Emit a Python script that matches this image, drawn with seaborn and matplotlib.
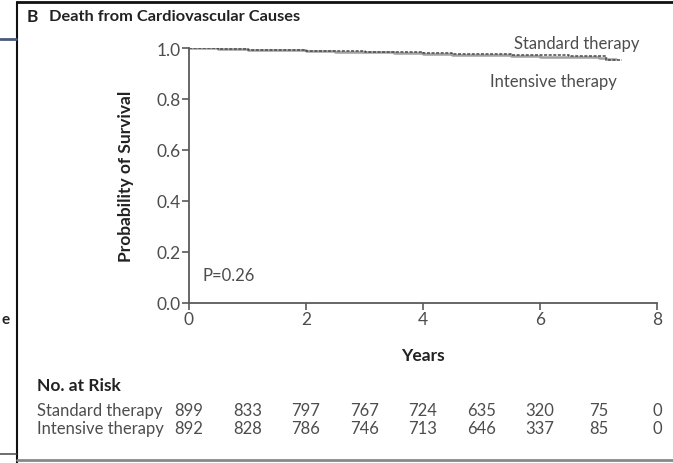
import matplotlib
matplotlib.use("Agg")
import matplotlib.pyplot as plt
import seaborn as sns
import pandas as pd
from matplotlib.lines import Line2D

# Kaplan-Meier style survival estimates (years, probability)
std_years = [0, 0.5, 1.0, 1.5, 2.0, 2.5, 3.0, 3.5, 4.0, 4.5, 5.0, 5.5, 6.0, 6.5, 7.0, 7.12, 7.4]
std_surv = [1.0, 0.997, 0.994, 0.992, 0.990, 0.988, 0.986, 0.984, 0.981, 0.978, 0.976, 0.973, 0.971, 0.969, 0.967, 0.952, 0.952]
int_years = [0, 0.5, 1.0, 1.5, 2.0, 2.5, 3.0, 3.5, 4.0, 4.5, 5.0, 5.5, 6.0, 6.5, 7.0, 7.12, 7.3]
int_surv = [1.0, 0.997, 0.994, 0.991, 0.989, 0.986, 0.983, 0.980, 0.977, 0.974, 0.971, 0.968, 0.965, 0.963, 0.961, 0.957, 0.957]

risk_years = [0, 1, 2, 3, 4, 5, 6, 7, 8]
risk_standard = [899, 833, 797, 767, 724, 635, 320, 75, 0]
risk_intensive = [892, 828, 786, 746, 713, 646, 337, 85, 0]

x_ticks = [0, 2, 4, 6, 8]
y_ticks = [0.0, 0.2, 0.4, 0.6, 0.8, 1.0]

sns.set_theme(style="white")
plt.rcParams["font.family"] = ["Lato", "DejaVu Sans"]

DARK = "#222222"
GRAY = "#4d4d4d"
W, H = 673, 464


def fx(px):
    return px / W


def fy(py):
    return 1 - py / H


fig = plt.figure(figsize=(6.73, 4.64), dpi=100)
ax = fig.add_axes([fx(189), fy(304), 468 / W, 255 / H])

df = pd.concat([
    pd.DataFrame({"Years": std_years, "Survival": std_surv, "Group": "Standard therapy"}),
    pd.DataFrame({"Years": int_years, "Survival": int_surv, "Group": "Intensive therapy"}),
])

sns.lineplot(data=df[df.Group == "Intensive therapy"], x="Years", y="Survival",
             drawstyle="steps-post", color="#a0a0a0", lw=1.8, ax=ax, legend=False)
sns.lineplot(data=df[df.Group == "Standard therapy"], x="Years", y="Survival",
             drawstyle="steps-post", color="#4a4a4a", lw=1.1, ls=(0, (2, 1)),
             ax=ax, legend=False)

ax.set_xlim(0, 8)
ax.set_ylim(0, 1.0)
ax.set_xticks(x_ticks)
ax.set_yticks(y_ticks)
ax.set_yticklabels([f"{v:.1f}" for v in y_ticks])
for s in ["top", "right"]:
    ax.spines[s].set_visible(False)
for s in ["left", "bottom"]:
    ax.spines[s].set_color("#5a5a5a")
    ax.spines[s].set_linewidth(1.3)
ax.tick_params(axis="both", direction="out", length=5, width=1.2, color="#5a5a5a",
               labelsize=12.5, labelcolor=GRAY, pad=1, left=True, bottom=True)
ax.set_xlabel("Years", fontsize=12.5, fontweight="bold", color=DARK, labelpad=14)
ax.set_ylabel("Probability of Survival", fontsize=12.5, fontweight="bold", color=DARK,
              labelpad=16)

fig.text(fx(640), fy(44), "Standard therapy", ha="right", va="center",
         fontsize=12, color=GRAY)
fig.text(fx(617), fy(82), "Intensive therapy", ha="right", va="center",
         fontsize=12, color=GRAY)
fig.text(fx(203), fy(276), "P=0.26", ha="left", va="center", fontsize=12, color=GRAY)

# Title
fig.text(fx(27), fy(17), "B", fontsize=12.5, fontweight="bold", color=DARK,
         ha="left", va="center")
fig.text(fx(49), fy(17), "Death from Cardiovascular Causes", fontsize=11.8,
         fontweight="bold", color=DARK, ha="left", va="center")

# Number at risk table, columns aligned with the yearly x positions
fig.text(fx(37), fy(386), "No. at Risk", fontsize=12.5, fontweight="bold",
         color=DARK, ha="left", va="center")
for row_y, label, counts in [(411, "Standard therapy", risk_standard),
                             (429, "Intensive therapy", risk_intensive)]:
    fig.text(fx(37), fy(row_y), label, fontsize=12, color=GRAY, ha="left", va="center")
    for yr, n in zip(risk_years, counts):
        xd = ax.transData.transform((yr, 0))[0]
        xf = fig.transFigure.inverted().transform((xd, 0))[0]
        fig.text(xf, fy(row_y), str(n), fontsize=12, color=GRAY, ha="center", va="center")

# Panel frame
fig.add_artist(Line2D([fx(17), 1], [fy(3), fy(3)], color="#111111", lw=2))
fig.add_artist(Line2D([fx(17), fx(17)], [0, fy(3)], color="#111111", lw=1.5))
fig.add_artist(Line2D([fx(17), 1], [fy(461), fy(461)], color="#888888", lw=2))
# Edge of the neighbouring panel
fig.add_artist(Line2D([0, fx(16)], [fy(40), fy(40)], color="#4a5a7a", lw=2))
fig.add_artist(Line2D([0, fx(16)], [fy(455), fy(455)], color="#555555", lw=1.2))
fig.text(fx(2), fy(320), "e", fontsize=11, fontweight="bold", color=DARK,
         ha="left", va="center")

fig.savefig("out.png", dpi=100)
